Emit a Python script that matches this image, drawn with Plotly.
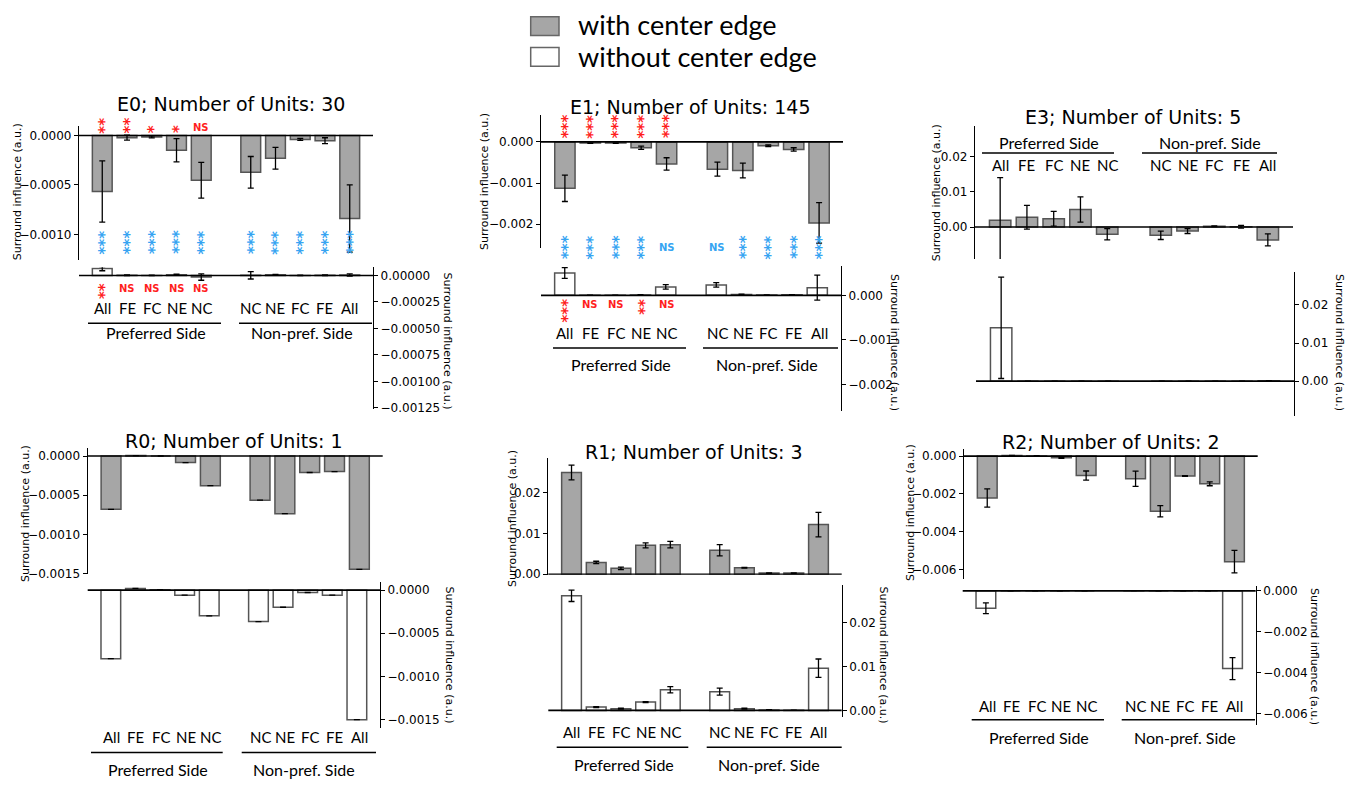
import plotly.graph_objects as go

W, H = 1354, 786

# ---------------- data ----------------
categories = ["All", "FE", "FC", "NE", "NC", "NC", "NE", "FC", "FE", "All"]
positions = [0, 1, 2, 3, 4, 6, 7, 8, 9, 10]
group_labels = ["Preferred Side", "Non-pref. Side"]
legend_labels = ["with center edge", "without center edge"]
panel_names = ["E0", "E1", "E3", "R0", "R1", "R2"]
unit_counts = [30, 145, 5, 1, 3, 2]

E0_with = [-0.000567, -0.000023, -0.000015, -0.00015, -0.000453, -0.000373, -0.00023, -0.00004, -0.000053, -0.00084]
E0_with_err = [0.00031, 0.000025, 0.00001, 0.000117, 0.00018, 0.00016, 0.00011, 0.00001, 0.00003, 0.00034]
E0_without = [0.000065, 0.000002, 0.000001, 0.000008, -0.000015, 0.000002, 0.000006, 0.000001, 0.000003, 0.000005]
E0_without_err = [0.00002, 0.000003, 0.000002, 0.000005, 0.00003, 0.000035, 0.000005, 0.000002, 0.000003, 0.00001]

E1_with = [-0.001127, -0.00003, -0.00003, -0.000144, -0.000535, -0.000663, -0.000695, -0.000096, -0.000183, -0.001967]
E1_with_err = [0.00032, 0.000005, 0.000005, 0.00004, 0.00015, 0.00017, 0.00018, 0.00002, 0.00004, 0.00049]
E1_without = [0.000503, 0.000001, 0.000001, 0.00001, 0.000189, 0.000234, 0.00002, 0.00001, 0.000012, 0.000173]
E1_without_err = [0.00012, 0.000002, 0.000002, 0.000003, 0.00005, 0.00005, 0.000005, 0.000002, 0.000003, 0.00028]

E3_with = [0.00197, 0.0028, 0.00237, 0.005, -0.00206, -0.00234, -0.00113, 0.0002, 0.0001, -0.00366]
E3_with_err = [0.0121, 0.0034, 0.0021, 0.0036, 0.0016, 0.0012, 0.0007, 0.0001, 0.0004, 0.0017]
E3_without = [0.014, 0, 0, 0, 0, 0, 0, 0, 0, 0.0001]
E3_without_err = [0.0133, 0, 0, 0, 0, 0, 0, 0, 0, 0]

R0_with = [-0.00068, 0.000005, 0.0, -0.000084, -0.000378, -0.000563, -0.000735, -0.00021, -0.000198, -0.001445]
R0_with_err = [0, 0, 0, 0, 0, 0, 0, 0, 0, 0]
R0_without = [-0.000795, 0.00002, 0.000005, -0.000058, -0.000298, -0.000364, -0.000198, -0.000027, -0.000058, -0.001502]
R0_without_err = [0, 0, 0, 0, 0, 0, 0, 0, 0, 0]

R1_with = [0.025, 0.0029, 0.00145, 0.0071, 0.00726, 0.0059, 0.0016, 0.0003, 0.0003, 0.0122]
R1_with_err = [0.0018, 0.0003, 0.0003, 0.0006, 0.0008, 0.0014, 0.0001, 0.00005, 0.00005, 0.003]
R1_without = [0.02607, 0.00075, 0.0004, 0.0019, 0.0047, 0.00427, 0.0004, 0.0001, 0.00003, 0.0096]
R1_without_err = [0.0013, 0.0001, 0.0001, 0.0001, 0.0007, 0.0008, 0.0001, 0.00005, 0.00002, 0.0021]

R2_with = [-0.00222, 0.00003, 0.00001, -0.00009, -0.00103, -0.0012, -0.00292, -0.00105, -0.00147, -0.00559]
R2_with_err = [0.00048, 0.00001, 0.00001, 0.00003, 0.00024, 0.0004, 0.0003, 0.00002, 0.0001, 0.0006]
R2_without = [-0.00085, 0, 0, 0, 0, 0.00001, 0, 0, 0, -0.0038]
R2_without_err = [0.00026, 0, 0, 0, 0, 0, 0, 0, 0, 0.00054]

# tick values / labels
E0_ticks_top = [0, -0.0005, -0.0010]
E0_ticktext_top = ["0.0000", "\u22120.0005", "\u22120.0010"]
E0_ticks_bot = [0, -0.00025, -0.0005, -0.00075, -0.001, -0.00125]
E0_ticktext_bot = ["0.00000", "\u22120.00025", "\u22120.00050", "\u22120.00075", "\u22120.00100", "\u22120.00125"]
E1_ticks = [0, -0.001, -0.002]
E1_ticktext = ["0.000", "\u22120.001", "\u22120.002"]
E3_ticks = [0, 0.01, 0.02]
E3_ticktext = ["0.00", "0.01", "0.02"]
R0_ticks = [0, -0.0005, -0.0010, -0.0015]
R0_ticktext = ["0.0000", "\u22120.0005", "\u22120.0010", "\u22120.0015"]
R1_ticks = [0, 0.01, 0.02]
R1_ticktext = ["0.00", "0.01", "0.02"]
R2_ticks = [0, -0.002, -0.004, -0.006]
R2_ticktext = ["0.000", "\u22120.002", "\u22120.004", "\u22120.006"]

# significance marks
E0_sig_red_top = ["**", "**", "*", "*", "NS"]
E0_sig_blue = ["***"] * 10
E0_sig_red_bot = ["**", "NS", "NS", "NS", "NS"]
E1_sig_red_top = ["***", "***", "***", "***", "***"]
E1_sig_blue = ["***", "***", "***", "***", "NS", "NS", "***", "***", "***", "***"]
E1_sig_red_bot = ["***", "NS", "NS", "**", "NS"]

Y_LABEL = "Surround influence (a.u.)"

# ---------------- layout geometry (pixels) ----------------
panels = [
    dict(with_=E0_with, with_err=E0_with_err, wo=E0_without, wo_err=E0_without_err,
         top=dict(x=(79, 373), y=(125, 261), r=(-0.00126, 0.0001), tv=E0_ticks_top, tt=E0_ticktext_top),
         bot=dict(x=(79, 373), y=(268.3, 411.7), r=(-0.00126, 0.000078), tv=E0_ticks_bot, tt=E0_ticktext_bot),
         title=(230.5, 103), ylab_l=(17, 192.5), ylab_r=(447, 342.5),
         cat_y=310, grp_y=334.5, line_y=325, grp_x=(155.7, 301.7), lines=((88, 221), (239, 372))),
    dict(with_=E1_with, with_err=E1_with_err, wo=E1_without, wo_err=E1_without_err,
         top=dict(x=(541, 843), y=(114, 249), r=(-0.00258, 0.00066), tv=E1_ticks, tt=E1_ticktext),
         bot=dict(x=(541, 841), y=(266.7, 413.3), r=(-0.00259, 0.000667), tv=E1_ticks, tt=E1_ticktext),
         title=(691, 106.7), ylab_l=(485, 182), ylab_r=(895, 344),
         cat_y=335, grp_y=366.7, line_y=350, grp_x=(620.7, 766.5), lines=((553, 686), (703, 838))),
    dict(with_=E3_with, with_err=E3_with_err, wo=E3_without, wo_err=E3_without_err,
         top=dict(x=(975, 1293), y=(125, 260), r=(-0.0091, 0.0289), tv=E3_ticks, tt=E3_ticktext),
         bot=dict(x=(976, 1294), y=(273.3, 419), r=(-0.0092, 0.0286), tv=E3_ticks, tt=E3_ticktext),
         title=(1133, 116.7), ylab_l=(936, 192.5), ylab_r=(1340, 344),
         cat_y=165, grp_y=142.3, line_y=152.7, grp_x=(1049, 1210), lines=((982, 1114), (1142, 1277))),
    dict(with_=R0_with, with_err=R0_with_err, wo=R0_without, wo_err=R0_without_err,
         top=dict(x=(87.7, 382.7), y=(450.7, 578.3), r=(-0.0015, 0.000108), tv=R0_ticks, tt=R0_ticktext),
         bot=dict(x=(87.7, 380), y=(586.7, 734), r=(-0.001594, 0.000095), tv=R0_ticks, tt=R0_ticktext),
         title=(233.7, 444), ylab_l=(25, 518), ylab_r=(450, 660),
         cat_y=744, grp_y=776.7, line_y=759.3, grp_x=(158, 303.8), lines=((91, 222.7), (241.7, 376))),
    dict(with_=R1_with, with_err=R1_with_err, wo=R1_without, wo_err=R1_without_err,
         top=dict(x=(548.3, 841.7), y=(461.7, 579.3), r=(-0.0001, 0.02847), tv=R1_ticks, tt=R1_ticktext),
         bot=dict(x=(548.3, 841.7), y=(589.3, 723.3), r=(-0.0015, 0.02863), tv=R1_ticks, tt=R1_ticktext),
         title=(694, 455), ylab_l=(512, 523), ylab_r=(884, 660),
         cat_y=738, grp_y=771.7, line_y=754, grp_x=(623.7, 769.5), lines=((556.7, 688.3), (706.7, 841.7))),
    dict(with_=R2_with, with_err=R2_with_err, wo=R2_without, wo_err=R2_without_err,
         top=dict(x=(964, 1257.7), y=(451.7, 583.3), r=(-0.00649, 0.0004), tv=R2_ticks, tt=R2_ticktext),
         bot=dict(x=(962.7, 1255.7), y=(591, 731), r=(-0.00654, 0.000227), tv=R2_ticks, tt=R2_ticktext),
         title=(1111, 445), ylab_l=(910, 517), ylab_r=(1315, 661.7),
         cat_y=711.7, grp_y=744, line_y=726, grp_x=(1039, 1184.8), lines=((971.7, 1104), (1121.7, 1255))),
]

GREY = "#a6a6a6"
EDGE = "#555555"
RED = "#ff1f1f"
BLUE = "#36a4f2"
TICKFONT = dict(family="DejaVu Sans", size=12, color="black")
LABFONT = dict(family="DejaVu Sans", size=11, color="black")
CATFONT = dict(family="Lato", size=15, color="black")
GRPFONT = dict(family="Lato", size=16, color="black")
XRANGE = [-0.94, 10.94]


def fx(x):
    return x / W


def fy(y):
    return 1 - y / H


fig = go.Figure()
layout = dict(width=W, height=H, margin=dict(l=0, r=0, t=0, b=0),
              paper_bgcolor="white", plot_bgcolor="rgba(0,0,0,0)",
              barmode="overlay", showlegend=False)
annotations = []
shapes = []

for i, p in enumerate(panels):
    for j, (key, vals, errs, fill) in enumerate([("top", p["with_"], p["with_err"], GREY),
                                                 ("bot", p["wo"], p["wo_err"], "white")]):
        n = 2 * i + j + 1
        g = p[key]
        xk = "xaxis" if n == 1 else f"xaxis{n}"
        yk = "yaxis" if n == 1 else f"yaxis{n}"
        xr = "x" if n == 1 else f"x{n}"
        yr = "y" if n == 1 else f"y{n}"
        layout[xk] = dict(domain=[fx(g["x"][0]), fx(g["x"][1])], range=XRANGE, visible=False,
                          anchor=yr, fixedrange=True)
        layout[yk] = dict(domain=[fy(g["y"][1]), fy(g["y"][0])], range=list(g["r"]), anchor=xr,
                          side="left" if key == "top" else "right",
                          showline=True, linecolor="black", linewidth=1.3, mirror=False,
                          ticks="outside", ticklen=4, tickwidth=1, tickcolor="black",
                          tickvals=g["tv"], ticktext=g["tt"], tickfont=TICKFONT,
                          showgrid=False, zeroline=False, fixedrange=True)
        fig.add_trace(go.Bar(
            x=positions, y=vals, width=0.8, xaxis=xr, yaxis=yr,
            marker=dict(color=fill, line=dict(color=EDGE, width=1.5)),
            error_y=dict(type="data", array=errs, visible=True, color="black", thickness=1.3, width=3),
            hoverinfo="skip", showlegend=False))
        # horizontal zero line (axhline) above the bars
        shapes.append(dict(type="line", xref=f"{xr} domain", yref=yr, x0=0, x1=1, y0=0, y1=0,
                           line=dict(color="black", width=1.6), layer="above"))

    # title
    annotations.append(dict(text=f"{panel_names[i]}; Number of Units: {unit_counts[i]}",
                            x=fx(p["title"][0]), y=fy(p["title"][1]), xref="paper", yref="paper",
                            showarrow=False, xanchor="center", yanchor="middle",
                            font=dict(family="DejaVu Sans", size=19, color="black")))
    # y labels
    annotations.append(dict(text=Y_LABEL, x=fx(p["ylab_l"][0]), y=fy(p["ylab_l"][1]),
                            xref="paper", yref="paper", showarrow=False, textangle=-90,
                            xanchor="center", yanchor="middle", font=LABFONT))
    annotations.append(dict(text=Y_LABEL, x=fx(p["ylab_r"][0]), y=fy(p["ylab_r"][1]),
                            xref="paper", yref="paper", showarrow=False, textangle=90,
                            xanchor="center", yanchor="middle", font=LABFONT))
    # category labels
    xref_top = "x" if i == 0 else f"x{2 * i + 1}"
    for pos, cat in zip(positions, categories):
        annotations.append(dict(text=cat, x=pos, y=fy(p["cat_y"]), xref=xref_top, yref="paper",
                                showarrow=False, xanchor="center", yanchor="middle", font=CATFONT))
    for gx, gl in zip(p["grp_x"], group_labels):
        annotations.append(dict(text=gl, x=fx(gx), y=fy(p["grp_y"]), xref="paper", yref="paper",
                                showarrow=False, xanchor="center", yanchor="middle", font=GRPFONT))
    for (x0, x1) in p["lines"]:
        shapes.append(dict(type="line", xref="paper", yref="paper", x0=fx(x0), x1=fx(x1),
                           y0=fy(p["line_y"]), y1=fy(p["line_y"]), line=dict(color="black", width=1.5)))


def add_sig(marks, xref, ypix, yanchor, color, idx_positions):
    for pos, m in zip(idx_positions, marks):
        if m == "NS":
            annotations.append(dict(text="<b>NS</b>", x=pos, y=fy(ypix), xref=xref, yref="paper",
                                    showarrow=False, xanchor="center", yanchor=yanchor,
                                    font=dict(family="DejaVu Sans", size=10, color=color)))
        else:
            annotations.append(dict(text=f"<b>{m}</b>", x=pos, y=fy(ypix), xref=xref, yref="paper",
                                    showarrow=False, xanchor="center", yanchor=yanchor, textangle=-90,
                                    xshift=3,
                                    font=dict(family="DejaVu Sans", size=15, color=color)))


add_sig(E0_sig_red_top, "x", 135, "bottom", RED, positions[:5])
add_sig(E0_sig_blue, "x", 243, "middle", BLUE, positions)
add_sig(E0_sig_red_bot, "x", 282, "top", RED, positions[:5])
add_sig(E1_sig_red_top, "x3", 140, "bottom", RED, positions[:5])
add_sig(E1_sig_blue, "x3", 248, "middle", BLUE, positions)
add_sig(E1_sig_red_bot, "x3", 298, "top", RED, positions[:5])

# legend
shapes.append(dict(type="rect", xref="paper", yref="paper", x0=fx(530.7), x1=fx(559), y0=fy(34), y1=fy(15),
                   fillcolor=GREY, line=dict(color="#666666", width=1.5)))
shapes.append(dict(type="rect", xref="paper", yref="paper", x0=fx(530.7), x1=fx(559), y0=fy(65), y1=fy(46),
                   fillcolor="white", line=dict(color="#666666", width=1.5)))
for ly, lt in zip([22.5, 55.2], legend_labels):
    annotations.append(dict(text=lt, x=fx(576), y=fy(ly), xref="paper", yref="paper", showarrow=False,
                            xanchor="left", yanchor="middle", font=dict(family="Lato", size=27, color="black")))

layout["annotations"] = annotations
layout["shapes"] = shapes
fig.update_layout(**layout)
fig.write_html("out.html")
